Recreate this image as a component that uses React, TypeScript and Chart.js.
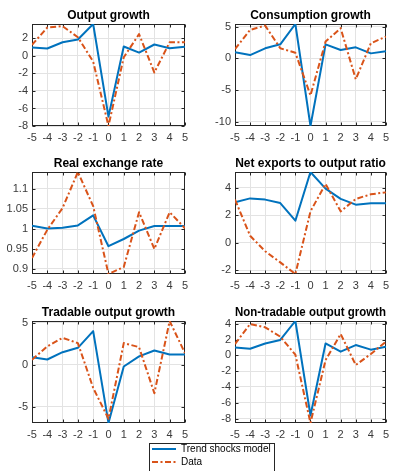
import React, { useEffect, useRef } from 'react';
import { Chart, registerables } from 'chart.js';

Chart.register(...registerables);

// ---------- data ----------
const X_VALUES = [-5, -4, -3, -2, -1, 0, 1, 2, 3, 4, 5];
const X_TICKS = [-5, -4, -3, -2, -1, 0, 1, 2, 3, 4, 5];
const SERIES_LABELS = ['Trend shocks model', 'Data'];

const OUTPUT_TITLE = 'Output growth';
const OUTPUT_MODEL = [0.95, 0.84, 1.56, 1.87, 3.64, -6.93, 1.07, 0.38, 1.3, 0.88, 1.03];
const OUTPUT_DATA = [1.26, 3.24, 3.39, 2.13, -0.65, -8.0, -0.15, 2.48, -1.9, 1.56, 1.56];
const OUTPUT_TICKS = [-8, -6, -4, -2, 0, 2];

const CONS_TITLE = 'Consumption growth';
const CONS_MODEL = [0.96, 0.53, 1.6, 2.23, 5.45, -10.7, 2.23, 1.33, 1.76, 0.8, 1.12];
const CONS_DATA = [1.49, 4.52, 5.2, 1.6, 0.9, -5.85, 2.66, 4.79, -3.3, 2.4, 3.46];
const CONS_TICKS = [-10, -5, 0, 5];

const RER_TITLE = 'Real exchange rate';
const RER_MODEL = [1.008, 1.001, 1.003, 1.009, 1.034, 0.957, 0.975, 0.996, 1.0075, 1.0075, 1.0075];
const RER_DATA = [0.9275, 0.998, 1.0525, 1.1425, 1.057, 0.8875, 0.905, 1.042, 0.95, 1.042, 1.002];
const RER_TICKS = [0.9, 0.95, 1, 1.05, 1.1];

const NX_TITLE = 'Net exports to output ratio';
const NX_MODEL = [2.95, 3.24, 3.15, 2.9, 1.61, 5.17, 3.95, 3.2, 2.78, 2.88, 2.88];
const NX_DATA = [3.15, 0.51, -0.63, -1.44, -2.29, 2.29, 4.3, 2.29, 3.2, 3.54, 3.68];
const NX_TICKS = [-2, 0, 2, 4];

const TRAD_TITLE = 'Tradable output growth';
const TRAD_MODEL = [0.91, 0.63, 1.5, 2.02, 4.0, -6.9, -0.2, 1.0, 1.7, 1.23, 1.23];
const TRAD_DATA = [0.6, 2.2, 3.2, 2.58, -2.74, -6.4, 2.58, 2.1, -3.37, 5.2, 1.39];
const TRAD_TICKS = [-5, 0, 5];

const NONTRAD_TITLE = 'Non-tradable output growth';
const NONTRAD_MODEL = [1.0, 0.84, 1.5, 1.94, 4.34, -7.6, 1.5, 0.46, 1.3, 0.72, 1.1];
const NONTRAD_DATA = [1.43, 3.96, 3.54, 2.36, 0.08, -8.55, -0.6, 2.7, -1.22, 0.17, 1.73];
const NONTRAD_TICKS = [-8, -6, -4, -2, 0, 2, 4];

// ---------- styles ----------
const FONT = '"Liberation Sans", Arial, Helvetica, sans-serif';
const BLUE = '#0072BD';
const ORANGE = '#D95319';
const AXIS_COLOR = '#262626';
const TICK_COLOR = '#3a3a3a';
const GRID_COLOR = '#e3e3e3';
const DASH_DOT = [6, 2.5, 2, 2.5];

const fmt = (v: number) => String(Math.round(v * 1000) / 1000);

const matlabBox = {
  id: 'matlabBox',
  beforeDatasetsDraw(chart: any) {
    const { ctx, chartArea, scales } = chart;
    const l = Math.round(chartArea.left) + 0.5;
    const r = Math.round(chartArea.right) - 0.5;
    const t = Math.round(chartArea.top) + 0.5;
    const b = Math.round(chartArea.bottom) - 0.5;
    ctx.save();
    ctx.strokeStyle = AXIS_COLOR;
    ctx.lineWidth = 1;
    ctx.setLineDash([]);
    ctx.beginPath();
    const tl = 3;
    scales.x.ticks.forEach((tk: any) => {
      const px = Math.round(scales.x.getPixelForValue(tk.value)) + 0.5;
      ctx.moveTo(px, b);
      ctx.lineTo(px, b - tl);
      ctx.moveTo(px, t);
      ctx.lineTo(px, t + tl);
    });
    scales.y.ticks.forEach((tk: any) => {
      const py = Math.round(scales.y.getPixelForValue(tk.value)) + 0.5;
      ctx.moveTo(l, py);
      ctx.lineTo(l + tl, py);
      ctx.moveTo(r, py);
      ctx.lineTo(r - tl, py);
    });
    ctx.stroke();
    ctx.strokeRect(l, t, r - l, b - t);
    ctx.restore();
  },
};

type PanelDef = { title: string; model: number[]; data: number[]; ticks: number[] };

const PANELS: PanelDef[] = [
  { title: OUTPUT_TITLE, model: OUTPUT_MODEL, data: OUTPUT_DATA, ticks: OUTPUT_TICKS },
  { title: CONS_TITLE, model: CONS_MODEL, data: CONS_DATA, ticks: CONS_TICKS },
  { title: RER_TITLE, model: RER_MODEL, data: RER_DATA, ticks: RER_TICKS },
  { title: NX_TITLE, model: NX_MODEL, data: NX_DATA, ticks: NX_TICKS },
  { title: TRAD_TITLE, model: TRAD_MODEL, data: TRAD_DATA, ticks: TRAD_TICKS },
  { title: NONTRAD_TITLE, model: NONTRAD_MODEL, data: NONTRAD_DATA, ticks: NONTRAD_TICKS },
];

type Geo = { left: number; top: number; width: number; height: number; yAxisWidth: number; rightPad: number };

function Panel({ def, geo }: { def: PanelDef; geo: Geo }) {
  const ref = useRef<HTMLCanvasElement>(null);
  useEffect(() => {
    const all = def.model.concat(def.data);
    const yMin = Math.min(...all);
    const yMax = Math.max(...all);
    const tickFont = { family: FONT, size: 11 };
    const chart = new Chart(ref.current as HTMLCanvasElement, {
      type: 'line',
      data: {
        datasets: [
          {
            label: SERIES_LABELS[0],
            data: X_VALUES.map((x, i) => ({ x, y: def.model[i] })),
            borderColor: BLUE,
            borderWidth: 2,
            pointRadius: 0,
            borderJoinStyle: 'round',
            fill: false,
            order: 2,
          },
          {
            label: SERIES_LABELS[1],
            data: X_VALUES.map((x, i) => ({ x, y: def.data[i] })),
            borderColor: ORANGE,
            borderWidth: 2,
            borderDash: DASH_DOT,
            pointRadius: 0,
            borderJoinStyle: 'round',
            fill: false,
            order: 1,
          },
        ],
      },
      options: {
        animation: false,
        responsive: false,
        devicePixelRatio: 1,
        layout: { padding: { left: 0, right: geo.rightPad, top: 0, bottom: 0 } },
        plugins: {
          legend: { display: false },
          tooltip: { enabled: false },
          title: {
            display: true,
            text: def.title,
            fullSize: false,
            color: '#000',
            font: { family: FONT, size: 12, weight: 'bold', lineHeight: 1.2 },
            padding: { top: 8, bottom: 1.6 },
          },
        },
        scales: {
          x: {
            type: 'linear',
            min: X_TICKS[0],
            max: X_TICKS[X_TICKS.length - 1],
            afterFit: (s: any) => {
              s.height = 22;
            },
            afterBuildTicks: (s: any) => {
              s.ticks = X_TICKS.map((v) => ({ value: v }));
            },
            grid: { color: GRID_COLOR, drawTicks: false },
            border: { display: false },
            ticks: {
              padding: 5,
              color: TICK_COLOR,
              font: tickFont,
              maxRotation: 0,
              autoSkip: false,
              callback: (v: any) => fmt(Number(v)),
            },
          },
          y: {
            type: 'linear',
            min: yMin,
            max: yMax,
            afterFit: (s: any) => {
              s.width = geo.yAxisWidth;
            },
            afterBuildTicks: (s: any) => {
              s.ticks = def.ticks.map((v) => ({ value: v }));
            },
            grid: { color: GRID_COLOR, drawTicks: false },
            border: { display: false },
            ticks: {
              padding: 4,
              color: TICK_COLOR,
              font: tickFont,
              autoSkip: false,
              callback: (v: any) => fmt(Number(v)),
            },
          },
        },
      } as any,
      plugins: [matlabBox],
    });
    return () => chart.destroy();
  }, [def, geo]);
  return (
    <canvas
      ref={ref}
      width={geo.width}
      height={geo.height}
      style={{ position: 'absolute', left: geo.left, top: geo.top, width: geo.width, height: geo.height }}
    />
  );
}

const legendBorder = {
  id: 'legendBorder',
  afterDraw(chart: any) {
    const { ctx, width } = chart;
    ctx.save();
    ctx.strokeStyle = AXIS_COLOR;
    ctx.lineWidth = 1;
    ctx.setLineDash([]);
    ctx.strokeRect(0.5, 2.5, width - 1, 60);
    ctx.restore();
  },
};

function LegendBox({ left, top, width, height }: { left: number; top: number; width: number; height: number }) {
  const ref = useRef<HTMLCanvasElement>(null);
  useEffect(() => {
    const chart = new Chart(ref.current as HTMLCanvasElement, {
      type: 'line',
      data: {
        datasets: [
          { label: SERIES_LABELS[0], data: [], borderColor: BLUE, borderWidth: 2 },
          { label: SERIES_LABELS[1], data: [], borderColor: ORANGE, borderWidth: 2, borderDash: DASH_DOT },
        ],
      },
      options: {
        animation: false,
        responsive: false,
        devicePixelRatio: 1,
        layout: { padding: 0 },
        scales: { x: { display: false }, y: { display: false } },
        plugins: {
          tooltip: { enabled: false },
          legend: {
            display: true,
            position: 'left',
            align: 'start',
            maxWidth: 200,
            labels: {
              usePointStyle: true,
              pointStyle: 'line',
              pointStyleWidth: 24,
              padding: 3,
              color: '#000',
              font: { family: FONT, size: 10 },
              generateLabels: (c: any) => {
                const items = Chart.defaults.plugins.legend.labels.generateLabels(c);
                return items.map((it: any) => {
                  const ds: any = c.data.datasets[it.datasetIndex];
                  return {
                    ...it,
                    strokeStyle: ds.borderColor,
                    fillStyle: ds.borderColor,
                    lineWidth: ds.borderWidth,
                    lineDash: ds.borderDash || [],
                    pointStyle: 'line',
                  };
                });
              },
            },
          },
        },
      } as any,
      plugins: [legendBorder],
    });
    return () => chart.destroy();
  }, []);
  return (
    <canvas
      ref={ref}
      width={width}
      height={height}
      style={{ position: 'absolute', left, top, width, height }}
    />
  );
}

const LEFT_COL = { left: 0, width: 193, yAxisWidth: 32, rightPad: 6 };
const RIGHT_COL = { left: 197, width: 197, yAxisWidth: 38, rightPad: 4 };
const ROW_TOPS = [0, 148, 297];
const PANEL_H = 148;

export default function App() {
  const memoGeos = React.useMemo(() => {
    const geos: Geo[] = [];
    ROW_TOPS.forEach((top) => {
      [LEFT_COL, RIGHT_COL].forEach((col) => {
        geos.push({ ...col, top, height: PANEL_H });
      });
    });
    return geos;
  }, []);
  return (
    <div
      style={{
        position: 'absolute',
        left: 0,
        top: 0,
        width: 394,
        height: 471,
        overflow: 'hidden',
        background: '#fff',
      }}
    >
      {PANELS.map((p, i) => (
        <Panel key={i} def={p} geo={memoGeos[i]} />
      ))}
      <LegendBox left={149} top={441} width={126} height={40} />
    </div>
  );
}
